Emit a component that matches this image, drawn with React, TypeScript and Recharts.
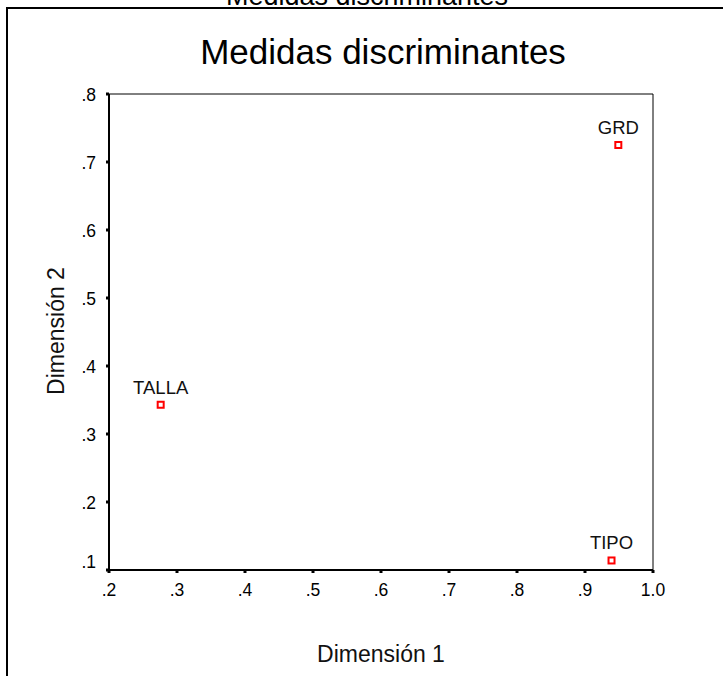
import { ScatterChart, Scatter, XAxis, YAxis, ReferenceArea } from "recharts";

const variables = ["GRD", "TALLA", "TIPO"];
const dimension1 = [0.949, 0.276, 0.939];
const dimension2 = [0.725, 0.343, 0.114];

const xTicks = [0.2, 0.3, 0.4, 0.5, 0.6, 0.7, 0.8, 0.9, 1.0];
const yTicks = [0.1, 0.2, 0.3, 0.4, 0.5, 0.6, 0.7, 0.8];

const FONT = "'Liberation Sans', Arial, sans-serif";

const data = variables.map((name, i) => ({
  name,
  x: dimension1[i],
  y: dimension2[i],
}));

const fmt = (v: number) => (v >= 1 ? v.toFixed(1) : v.toFixed(1).replace(/^0/, ""));

const PointShape = (props: any) => {
  const { cx, cy, payload } = props;
  return (
    <g>
      <rect
        x={cx - 3}
        y={cy - 3}
        width={6}
        height={6}
        fill="none"
        stroke="#ff0000"
        strokeWidth={2}
      />
      <text
        x={cx}
        y={cy - 11}
        textAnchor="middle"
        fontSize={18.5}
        fontFamily={FONT}
        fill="#111"
      >
        {payload.name}
      </text>
    </g>
  );
};

const YTick = (props: any) => {
  const { x, y, payload } = props;
  const shift = payload.value === 0.1 ? -8 : 1;
  return (
    <text
      x={x}
      y={y + shift}
      dy="0.355em"
      textAnchor="end"
      fontSize={17.5}
      fontFamily={FONT}
      fill="#000"
    >
      {fmt(payload.value)}
    </text>
  );
};

const App = () => {
  return (
    <div
      style={{
        position: "absolute",
        left: 0,
        top: 0,
        width: 723,
        height: 676,
        overflow: "hidden",
        background: "#fff",
      }}
    >
      <ScatterChart
        width={723}
        height={676}
        margin={{ top: 94, right: 70, bottom: 66, left: 49 }}
      >
        <ReferenceArea
          x1={0.2}
          x2={1.0}
          y1={0.1}
          y2={0.8}
          fill="none"
          stroke="#000"
          strokeWidth={1}
          fillOpacity={0}
        />
        <XAxis
          type="number"
          dataKey="x"
          domain={[0.2, 1.0]}
          ticks={xTicks}
          tickFormatter={fmt}
          height={40}
          axisLine={{ stroke: "#000", strokeWidth: 2 }}
          tickLine={{ stroke: "#000", strokeWidth: 3 }}
          tickSize={3}
          tickMargin={11}
          tick={{ fontSize: 17.5, fontFamily: FONT, fill: "#000" }}
          interval={0}
          allowDataOverflow
        />
        <YAxis
          type="number"
          dataKey="y"
          domain={[0.1, 0.8]}
          ticks={yTicks}
          width={60}
          axisLine={{ stroke: "#000", strokeWidth: 2 }}
          tickLine={{ stroke: "#000", strokeWidth: 3 }}
          tickSize={3}
          tickMargin={10}
          tick={<YTick />}
          interval={0}
          allowDataOverflow
        />
        <Scatter data={data} shape={<PointShape />} isAnimationActive={false} />
      </ScatterChart>
      <svg
        width={723}
        height={676}
        style={{ position: "absolute", left: 0, top: 0, pointerEvents: "none" }}
      >
        <text
          x={367}
          y={5}
          textAnchor="middle"
          fontSize={27}
          fontFamily={FONT}
          fill="#000"
        >
          Medidas discriminantes
        </text>
        <rect x={6} y={7} width={717} height={2} fill="#000" />
        <rect x={6} y={7} width={2} height={669} fill="#000" />
        <text
          x={383}
          y={64}
          textAnchor="middle"
          fontSize={35}
          fontFamily={FONT}
          fill="#000"
        >
          Medidas discriminantes
        </text>
        <text
          x={381}
          y={662}
          textAnchor="middle"
          fontSize={23}
          fontFamily={FONT}
          fill="#111"
        >
          Dimensión 1
        </text>
        <text
          x={64}
          y={331}
          transform="rotate(-90 64 331)"
          textAnchor="middle"
          fontSize={23}
          fontFamily={FONT}
          fill="#111"
        >
          Dimensión 2
        </text>
      </svg>
    </div>
  );
};

export default App;
